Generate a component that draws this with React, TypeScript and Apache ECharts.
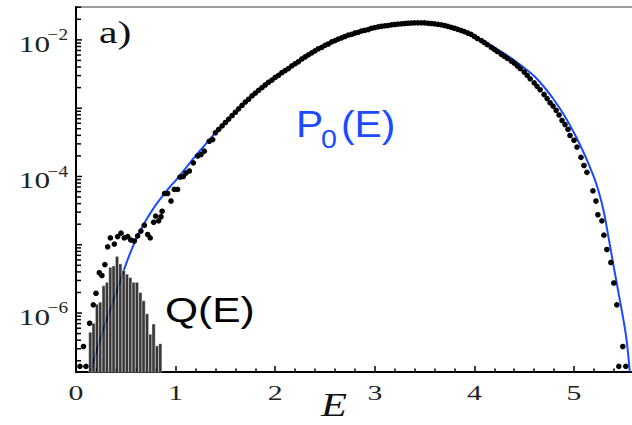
import React, { useEffect, useRef } from "react";
import * as echarts from "echarts";

// ---------- axes ----------
const X_MIN = 0;
const X_MAX = 6;
const X_TICK_LABELS = [0, 1, 2, 3, 4, 5];
const Y_MIN = 1.37e-7;
const Y_MAX = 0.0303;
const Y_DECADES = [-7, -6, -5, -4, -3, -2];
const Y_MULTIPLIERS = [1, 2, 3, 4, 5, 6, 7, 8, 9];
const Y_LABEL_EXPONENTS = [-2, -4, -6];

// ---------- P0(E): blue curve, [E, log10 P0] ----------
const p0Curve: [number, number][] = [
  [0.147, -6.86], [0.2, -6.58], [0.25, -6.35], [0.3, -6.13], [0.35, -5.92],
  [0.4, -5.71], [0.45, -5.5], [0.5, -5.29], [0.55, -5.1], [0.6, -4.93],
  [0.65, -4.78], [0.7, -4.65], [0.75, -4.53], [0.8, -4.42], [0.85, -4.32],
  [0.9, -4.23], [0.95, -4.14], [1.0, -4.06], [1.1, -3.88], [1.2, -3.7],
  [1.3, -3.53], [1.4, -3.36], [1.5, -3.21], [1.6, -3.06], [1.7, -2.91],
  [1.8, -2.78], [1.9, -2.66], [2.0, -2.55], [2.1, -2.45], [2.2, -2.35],
  [2.3, -2.25], [2.4, -2.16], [2.5, -2.08], [2.6, -2.01], [2.7, -1.95],
  [2.8, -1.9], [2.9, -1.86], [3.0, -1.82], [3.1, -1.795], [3.2, -1.775],
  [3.3, -1.76], [3.4, -1.75], [3.5, -1.752], [3.6, -1.765], [3.7, -1.79],
  [3.8, -1.83], [3.9, -1.88], [4.0, -1.94], [4.1, -2.02], [4.2, -2.11],
  [4.3, -2.2], [4.4, -2.3], [4.5, -2.41], [4.6, -2.53], [4.7, -2.69],
  [4.8, -2.88], [4.9, -3.1], [5.0, -3.36], [5.1, -3.66], [5.15, -3.83],
  [5.2, -4.01], [5.25, -4.23], [5.3, -4.52], [5.35, -4.92], [5.4, -5.33],
  [5.45, -5.73], [5.5, -6.13], [5.53, -6.42], [5.56, -6.86],
];

// ---------- simulation points, [E, log10 P] ----------
const dotsLow: [number, number][] = [
  [0.04, -6.78], [0.075, -6.49], [0.1, -6.78], [0.137, -6.15], [0.174, -5.88],
  [0.201, -5.71], [0.234, -5.41], [0.26, -5.45], [0.29, -5.29], [0.318, -5.03],
  [0.345, -4.9], [0.385, -4.99], [0.418, -4.88], [0.452, -4.83], [0.485, -4.9],
  [0.519, -4.88], [0.55, -4.93], [0.585, -4.945], [0.619, -4.87], [0.652, -4.8],
  [0.686, -4.715], [0.72, -4.85], [0.745, -4.9], [0.78, -4.67], [0.8, -4.58],
  [0.83, -4.65], [0.853, -4.59], [0.865, -4.51], [0.89, -4.25], [0.92, -4.25],
  [0.954, -4.36], [0.987, -4.19], [1.02, -4.19], [1.044, -4.01], [1.077, -4.0],
  [1.104, -3.95], [1.138, -3.92], [1.178, -3.8], [1.222, -3.7], [1.255, -3.68],
  [1.288, -3.63], [1.338, -3.485], [1.372, -3.46],
];
const dotsMid: [number, number][] = [
  [1.4, -3.36], [1.433, -3.31], [1.467, -3.26], [1.5, -3.21], [1.533, -3.16],
  [1.567, -3.11], [1.6, -3.06], [1.633, -3.01], [1.667, -2.96], [1.7, -2.91],
  [1.733, -2.87], [1.767, -2.82], [1.8, -2.78], [1.833, -2.74], [1.867, -2.7],
  [1.9, -2.66], [1.933, -2.62], [1.967, -2.59], [2.0, -2.55], [2.033, -2.52],
  [2.067, -2.48], [2.1, -2.45], [2.133, -2.42], [2.167, -2.38], [2.2, -2.35],
  [2.233, -2.32], [2.267, -2.28], [2.3, -2.25], [2.333, -2.22], [2.367, -2.19],
  [2.4, -2.16], [2.433, -2.13], [2.467, -2.11], [2.5, -2.08], [2.533, -2.06],
  [2.567, -2.03], [2.6, -2.01], [2.633, -1.99], [2.667, -1.97], [2.7, -1.95],
  [2.733, -1.93], [2.767, -1.92], [2.8, -1.9], [2.833, -1.89], [2.867, -1.87],
  [2.9, -1.86], [2.933, -1.85], [2.967, -1.83], [3.0, -1.82], [3.033, -1.81],
  [3.067, -1.8], [3.1, -1.795], [3.133, -1.79], [3.167, -1.78], [3.2, -1.775],
  [3.233, -1.77], [3.267, -1.765], [3.3, -1.76], [3.333, -1.757], [3.367, -1.753],
  [3.4, -1.75], [3.433, -1.75], [3.467, -1.751], [3.5, -1.752], [3.533, -1.756],
  [3.567, -1.76], [3.6, -1.765], [3.633, -1.773], [3.667, -1.78], [3.7, -1.79],
  [3.733, -1.803], [3.767, -1.817], [3.8, -1.83], [3.833, -1.847], [3.867, -1.863],
  [3.9, -1.88], [3.933, -1.9], [3.967, -1.92],
];
const dotsHigh: [number, number][] = [
  [4.0, -1.95], [4.03, -1.98], [4.07, -2.01], [4.1, -2.04], [4.13, -2.07],
  [4.17, -2.11], [4.2, -2.14], [4.23, -2.17], [4.27, -2.21], [4.3, -2.24],
  [4.33, -2.27], [4.37, -2.31], [4.4, -2.34], [4.43, -2.38], [4.46, -2.42],
  [4.5, -2.47], [4.53, -2.52], [4.56, -2.57], [4.6, -2.63], [4.63, -2.68],
  [4.66, -2.73], [4.7, -2.8], [4.73, -2.86], [4.76, -2.92], [4.79, -2.97],
  [4.82, -3.03], [4.85, -3.1], [4.88, -3.18], [4.91, -3.24], [4.94, -3.31],
  [4.96, -3.4], [5.0, -3.47], [5.03, -3.57], [5.07, -3.72], [5.1, -3.84],
  [5.13, -3.94], [5.19, -4.21], [5.22, -4.36], [5.24, -4.56], [5.28, -4.65],
  [5.3, -4.86], [5.33, -5.07], [5.37, -5.26], [5.4, -5.56], [5.43, -5.88],
  [5.45, -6.78], [5.49, -6.49], [5.52, -6.78],
];

// ---------- Q(E) histogram: bin centres and log10 heights ----------
const qBinCenters = [
  0.144, 0.177, 0.211, 0.244, 0.278, 0.311, 0.345, 0.378, 0.412, 0.445, 0.479,
  0.512, 0.545, 0.579, 0.612, 0.646, 0.679, 0.713, 0.746, 0.779, 0.813, 0.846,
];
const qLog10 = [
  -6.28, -6.15, -5.87, -5.84, -5.6, -5.55, -5.33, -5.31, -5.17, -5.28, -5.38,
  -5.43, -5.48, -5.55, -5.55, -5.7, -5.82, -6.01, -6.31, -6.16, -6.48, -6.45,
];

const BLUE = "#1b4bff";
const SERIF = '"Liberation Serif", "Times New Roman", serif';
const SANS = '"Liberation Sans", Arial, sans-serif';

const toPoint = (p: [number, number]) => [p[0], Math.pow(10, p[1])];

function buildOption(): any {
  const binW = qBinCenters[1] - qBinCenters[0];
  const yTicks: number[][] = [];
  Y_DECADES.forEach((d) =>
    Y_MULTIPLIERS.forEach((m) => {
      const v = m * Math.pow(10, d);
      if (v >= Y_MIN && v <= Y_MAX) yTicks.push([0, v, m === 1 ? 1 : 0]);
    })
  );

  return {
    animation: false,
    backgroundColor: "#fff",
    grid: {
      left: 76,
      top: 7,
      width: 597.6,
      height: 365,
      show: true,
      borderColor: "#9a9a9a",
      borderWidth: 2,
      backgroundColor: "transparent",
      containLabel: false,
      outerBoundsMode: "none",
    },
    xAxis: {
      type: "value",
      min: X_MIN,
      max: X_MAX,
      interval: 1,
      axisLine: { onZero: false, lineStyle: { color: "#000", width: 2 } },
      axisTick: { inside: true, length: 6, lineStyle: { color: "#000", width: 1.5 } },
      minorTick: { show: true, splitNumber: 5, length: 3.5, lineStyle: { color: "#000", width: 1.5 } },
      splitLine: { show: false },
      minorSplitLine: { show: false },
      axisLabel: { show: false },
    },
    yAxis: {
      type: "log",
      logBase: 10,
      min: Y_MIN,
      max: Y_MAX,
      axisLine: { show: true, onZero: false, lineStyle: { color: "#000", width: 2 } },
      axisTick: { show: false },
      minorTick: { show: false },
      axisLabel: { show: false },
      splitLine: { show: false },
    },
    series: [
      {
        name: "P0(E)",
        type: "line",
        data: p0Curve.map(toPoint),
        showSymbol: false,
        symbol: "none",
        smooth: 0.3,
        lineStyle: { color: BLUE, width: 2 },
        z: 2,
      },
      {
        name: "Q(E)",
        type: "custom",
        data: qBinCenters.map((e, i) => [e, Math.pow(10, qLog10[i])]),
        renderItem: (_p: any, api: any) => {
          const e = api.value(0);
          const v = api.value(1);
          const tl = api.coord([e - binW / 2, v]);
          const br = api.coord([e + binW / 2, Y_MIN]);
          return {
            type: "rect",
            shape: { x: tl[0], y: tl[1], width: br[0] - tl[0], height: br[1] - tl[1] },
            style: { fill: "rgba(5,5,5,0.8)", stroke: "#ffffff", lineWidth: 0.45 },
          };
        },
        z: 3,
      },
      {
        name: "simulation",
        type: "scatter",
        data: [...dotsLow, ...dotsMid, ...dotsHigh].map(toPoint),
        symbol: "circle",
        symbolSize: 5.6,
        itemStyle: { color: "#000", opacity: 1 },
        z: 4,
      },
      {
        name: "yTicks",
        type: "custom",
        data: yTicks,
        clip: false,
        renderItem: (_p: any, api: any) => {
          const pt = api.coord([0, api.value(1)]);
          const len = api.value(2) ? 6 : 5;
          return {
            type: "line",
            shape: { x1: pt[0], y1: pt[1], x2: pt[0] + len, y2: pt[1] },
            style: { stroke: "#000", lineWidth: 1.5 },
          };
        },
        z: 5,
      },
      {
        name: "yLabels",
        type: "custom",
        data: Y_LABEL_EXPONENTS.map((n) => [0, Math.pow(10, n), n]),
        clip: false,
        renderItem: (_p: any, api: any) => {
          const pt = api.coord([0, api.value(1)]);
          const n = api.value(2);
          return {
            type: "group",
            children: [
              {
                type: "text",
                x: pt[0] - 26,
                y: pt[1] + 3.5,
                scaleX: 1.3,
                style: {
                  text: "10",
                  fontFamily: SERIF,
                  fontSize: 24,
                  fill: "#222",
                  align: "right",
                  verticalAlign: "middle",
                },
              },
              {
                type: "text",
                x: pt[0] - 8,
                y: pt[1] - 5,
                scaleX: 1.2,
                style: {
                  text: "\u2212" + Math.abs(n),
                  fontFamily: SERIF,
                  fontSize: 16,
                  fill: "#222",
                  align: "right",
                  verticalAlign: "middle",
                },
              },
            ],
          };
        },
        z: 5,
      },
      {
        name: "xLabels",
        type: "custom",
        data: X_TICK_LABELS.map((v) => [v, Y_MIN]),
        clip: false,
        renderItem: (_p: any, api: any) => {
          const v = api.value(0);
          const pt = api.coord([v, Y_MIN]);
          return {
            type: "text",
            x: pt[0],
            y: pt[1] + 20.5,
            scaleX: 1.35,
            style: {
              text: String(v),
              fontFamily: SERIF,
              fontSize: 22,
              fill: "#222",
              align: "center",
              verticalAlign: "middle",
            },
          };
        },
        z: 5,
      },
    ],
    graphic: [
      {
        type: "text",
        x: 99,
        y: 32.5,
        scaleX: 1.3,
        style: { text: "a)", fontFamily: SERIF, fontSize: 32, fill: "#111", align: "left", verticalAlign: "middle" },
      },
      {
        type: "text",
        x: 296,
        y: 124,
        scaleX: 1.1,
        style: { text: "P", fontFamily: SANS, fontSize: 37, fill: BLUE, align: "left", verticalAlign: "middle" },
      },
      {
        type: "text",
        x: 321,
        y: 139,
        scaleX: 1.1,
        style: { text: "0", fontFamily: SANS, fontSize: 26, fill: BLUE, align: "left", verticalAlign: "middle" },
      },
      {
        type: "text",
        x: 341,
        y: 124,
        scaleX: 1.1,
        style: { text: "(E)", fontFamily: SANS, fontSize: 37, fill: BLUE, align: "left", verticalAlign: "middle" },
      },
      {
        type: "text",
        x: 165,
        y: 309.5,
        scaleX: 1.18,
        style: { text: "Q(E)", fontFamily: SANS, fontSize: 36, fill: "#000", align: "left", verticalAlign: "middle" },
      },
      {
        type: "text",
        x: 321,
        y: 405,
        scaleX: 1.25,
        style: {
          text: "E",
          fontFamily: SERIF,
          fontStyle: "italic",
          fontSize: 34,
          fill: "#111",
          align: "left",
          verticalAlign: "middle",
        },
      },
    ],
  };
}

export default function App() {
  const ref = useRef<HTMLDivElement>(null);
  useEffect(() => {
    document.body.style.margin = "0";
    if (!ref.current) return;
    const chart = echarts.init(ref.current, null, { renderer: "svg" });
    chart.setOption(buildOption());
    return () => chart.dispose();
  }, []);
  return (
    <div
      ref={ref}
      style={{ position: "fixed", left: 0, top: 0, width: 632, height: 425, background: "#fff", overflow: "hidden" }}
    />
  );
}
